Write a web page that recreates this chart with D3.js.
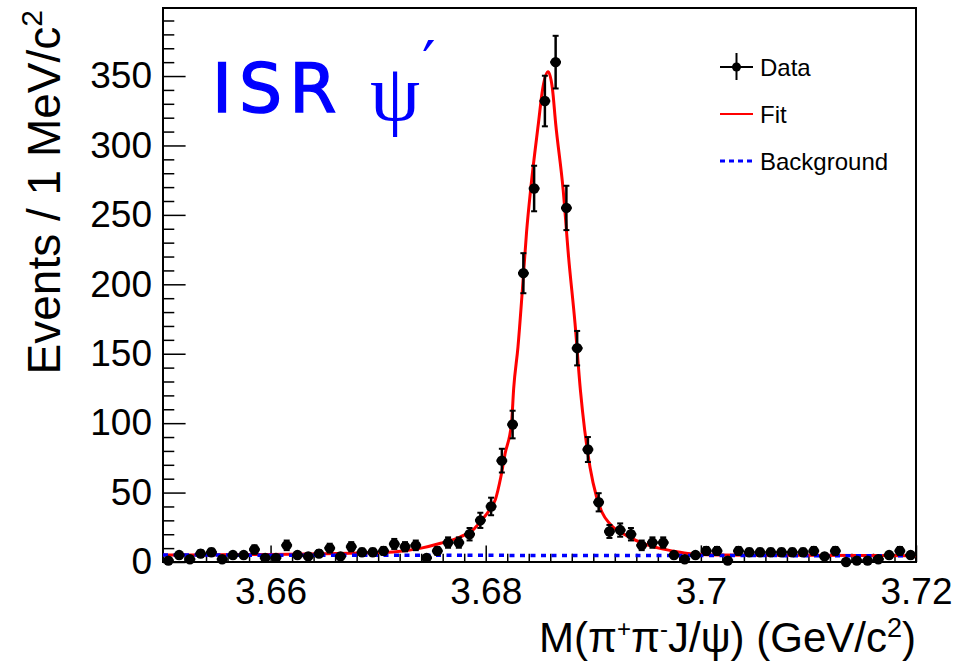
<!DOCTYPE html>
<html>
<head>
<meta charset="utf-8">
<script src="https://cdn.jsdelivr.net/npm/d3@7"></script>
<style>
  body { margin: 0; background: #fff; }
  svg { display: block; }
</style>
</head>
<body>
<div id="chart"></div>
<script>
// data: events per 1 MeV bin, 3.65 - 3.72 GeV
const binStart = 3.65;
const binWidth = 0.001;
const counts = [
  1, 5, 2, 6, 7, 2, 5, 5, 9, 3,
  3, 12, 5, 4, 6, 10, 4, 11, 7, 7,
  8, 13, 11, 12, 3, 8, 14, 14, 20, 30,
  40, 73, 99, 208, 269, 332, 360, 255, 154, 81,
  43, 22, 23, 20, 12, 14, 14, 5, 2, 5,
  8, 8, 1, 8, 7, 7, 7, 7, 7, 7,
  8, 4, 8, 0, 1, 1, 2, 5, 8, 5
];

// fit curve
const fitX = [3.65, 3.655, 3.66, 3.665, 3.6685, 3.6714, 3.674, 3.6758, 3.6776, 3.6788,
  3.6795, 3.6804, 3.6809, 3.6814, 3.6818, 3.6824, 3.6826, 3.683, 3.6834, 3.6838,
  3.6842, 3.6849, 3.6853, 3.6858, 3.6862, 3.6865, 3.6872, 3.6877, 3.6883, 3.6888,
  3.6892, 3.6897, 3.6903, 3.6908, 3.6916, 3.6931, 3.6946, 3.6962, 3.6978, 3.6993,
  3.7018, 3.71, 3.72];
const fitY = [5.0, 5.2, 5.4, 5.9, 6.5, 7.2, 10, 13.5, 18, 23,
  29, 38, 45, 61, 78, 100, 125, 155, 195, 238,
  270, 316, 341, 353, 341, 316, 268, 220, 172, 124,
  95, 68, 47, 36, 27, 19, 13.4, 9.8, 7.4, 5.7,
  5.0, 4.8, 4.5];

// background
const bgX = [3.65, 3.72];
const bgY = [5.0, 4.5];

// axes
const xMajor = [3.66, 3.68, 3.70, 3.72];
const xTickLabels = ["3.66", "3.68", "3.7", "3.72"];
const yMajor = [0, 50, 100, 150, 200, 250, 300, 350];
const yTickLabels = ["0", "50", "100", "150", "200", "250", "300", "350"];
const legendLabels = ["Data", "Fit", "Background"];

const W = 959, H = 668;
const frame = { left: 163, right: 916, top: 8, bottom: 562 };
const font = "'Liberation Sans', Arial, Helvetica, sans-serif";

const svg = d3.select("#chart")
  .append("svg")
  .attr("width", W)
  .attr("height", H)
  .style("background", "#fff");

const x = d3.scaleLinear().domain([3.65, 3.72]).range([frame.left, frame.right]);
const y = d3.scaleLinear().domain([0, 399]).range([frame.bottom, frame.top]);

const xTickLen = 0.03 * (frame.bottom - frame.top);
const yTickLen = 0.03 * (frame.right - frame.left);

// minor ticks
const xMinor = d3.range(3.65, 3.7201, 0.002).filter(v => !xMajor.some(m => Math.abs(m - v) < 1e-6));
const yMinor = d3.range(0, 400, 10).filter(v => v % 50 !== 0);

function styleAxis(g) {
  g.select(".domain").remove();
  g.selectAll("line").attr("stroke", "#000").attr("stroke-width", 1.5);
  g.selectAll("text")
    .attr("font-family", font)
    .attr("font-size", 37)
    .attr("fill", "#000");
}

svg.append("g")
  .attr("transform", `translate(0,${frame.bottom})`)
  .call(d3.axisBottom(x).tickValues(xMinor).tickSize(-xTickLen / 2).tickSizeOuter(0).tickFormat(""))
  .call(styleAxis);

svg.append("g")
  .attr("transform", `translate(0,${frame.bottom})`)
  .call(d3.axisBottom(x).tickValues(xMajor).tickSize(-xTickLen).tickSizeOuter(0)
    .tickPadding(16).tickFormat((d, i) => xTickLabels[i]))
  .call(styleAxis);

svg.append("g")
  .attr("transform", `translate(${frame.left},0)`)
  .call(d3.axisLeft(y).tickValues(yMinor).tickSize(-yTickLen / 2).tickSizeOuter(0).tickFormat(""))
  .call(styleAxis);

svg.append("g")
  .attr("transform", `translate(${frame.left},0)`)
  .call(d3.axisLeft(y).tickValues(yMajor).tickSize(-yTickLen).tickSizeOuter(0)
    .tickPadding(11).tickFormat((d, i) => yTickLabels[i]))
  .call(styleAxis);

// frame
svg.append("rect")
  .attr("x", frame.left)
  .attr("y", frame.top)
  .attr("width", frame.right - frame.left)
  .attr("height", frame.bottom - frame.top)
  .attr("fill", "none")
  .attr("stroke", "#000")
  .attr("stroke-width", 2);

// fit and background
const line = d3.line()
  .x(d => x(d[0]))
  .y(d => y(d[1]))
  .curve(d3.curveMonotoneX);

svg.append("path")
  .datum(d3.zip(fitX, fitY))
  .attr("fill", "none")
  .attr("stroke", "#ff0000")
  .attr("stroke-width", 3)
  .attr("d", line);

svg.append("path")
  .datum(d3.zip(bgX, bgY))
  .attr("fill", "none")
  .attr("stroke", "#0000ff")
  .attr("stroke-width", 3.5)
  .attr("stroke-dasharray", "5,5.5")
  .attr("d", line);

// data points with errors
const points = counts.map((n, i) => ({
  lo: binStart + i * binWidth,
  mid: binStart + (i + 0.5) * binWidth,
  hi: binStart + (i + 1) * binWidth,
  n: n
}));

const pts = svg.append("g").attr("stroke", "#000").attr("fill", "#000");

pts.selectAll(".xerr")
  .data(points)
  .join("line")
  .attr("x1", d => x(d.lo))
  .attr("x2", d => x(d.hi))
  .attr("y1", d => y(d.n))
  .attr("y2", d => y(d.n))
  .attr("stroke-width", 2.5);

const withErr = points.filter(d => d.n > 0);

pts.selectAll(".yerr")
  .data(withErr)
  .join("line")
  .attr("x1", d => x(d.mid))
  .attr("x2", d => x(d.mid))
  .attr("y1", d => y(d.n - Math.sqrt(d.n)))
  .attr("y2", d => y(d.n + Math.sqrt(d.n)))
  .attr("stroke-width", 2.5);

pts.selectAll(".cap")
  .data(withErr.flatMap(d => [d.n - Math.sqrt(d.n), d.n + Math.sqrt(d.n)].map(v => ({ mid: d.mid, v: v }))))
  .join("line")
  .attr("x1", d => x(d.mid) - 3)
  .attr("x2", d => x(d.mid) + 3)
  .attr("y1", d => y(d.v))
  .attr("y2", d => y(d.v))
  .attr("stroke-width", 2);

pts.selectAll("circle")
  .data(points)
  .join("circle")
  .attr("cx", d => x(d.mid))
  .attr("cy", d => y(d.n))
  .attr("r", 5.2)
  .attr("stroke", "none");

// legend
const legend = svg.append("g").attr("font-family", font).attr("font-size", 24);
const legY = [67, 114, 161];

legend.selectAll("text")
  .data(legendLabels)
  .join("text")
  .attr("x", 760)
  .attr("y", (d, i) => legY[i] + 9)
  .text(d => d);

legend.append("line").attr("x1", 720).attr("x2", 753).attr("y1", legY[0]).attr("y2", legY[0])
  .attr("stroke", "#000").attr("stroke-width", 2);
legend.append("line").attr("x1", 736.5).attr("x2", 736.5).attr("y1", legY[0] - 14).attr("y2", legY[0] + 13)
  .attr("stroke", "#000").attr("stroke-width", 2);
legend.append("circle").attr("cx", 736.5).attr("cy", legY[0]).attr("r", 4.5).attr("fill", "#000");
legend.append("line").attr("x1", 720).attr("x2", 753).attr("y1", legY[1]).attr("y2", legY[1])
  .attr("stroke", "#ff0000").attr("stroke-width", 2);
legend.append("line").attr("x1", 720).attr("x2", 753).attr("y1", legY[2]).attr("y2", legY[2])
  .attr("stroke", "#0000ff").attr("stroke-width", 3).attr("stroke-dasharray", "5,4");

// axis titles
const yTitle = svg.append("text")
  .attr("transform", `translate(60,${frame.top + 2}) rotate(-90)`)
  .attr("text-anchor", "end")
  .attr("font-family", font)
  .attr("font-size", 46)
  .attr("fill", "#000");
yTitle.append("tspan").text("Events / 1 MeV/c");
yTitle.append("tspan").attr("dy", -18).attr("font-size", 30).text("2");

const xTitle = svg.append("text")
  .attr("x", frame.right)
  .attr("y", 652)
  .attr("text-anchor", "end")
  .attr("font-family", font)
  .attr("font-size", 42)
  .attr("fill", "#000");
xTitle.append("tspan").text("M(π");
xTitle.append("tspan").attr("dy", -15).attr("font-size", 24).text("+");
xTitle.append("tspan").attr("dy", 15).text("π");
xTitle.append("tspan").attr("dy", -15).attr("font-size", 24).text("-");
xTitle.append("tspan").attr("dy", 15).text("J/ψ) (GeV/c");
xTitle.append("tspan").attr("dy", -15).attr("font-size", 27).text("2");
xTitle.append("tspan").attr("dy", 15).text(")");

// label in the corner
const tag = svg.append("text")
  .attr("x", 212)
  .attr("y", 112)
  .attr("fill", "#0000ff")
  .attr("font-family", "'Comic Sans MS', 'DejaVu Sans', sans-serif")
  .attr("font-size", 68)
  .attr("letter-spacing", 7)
  .attr("stroke", "#0000ff")
  .attr("stroke-width", 1.5);
tag.append("tspan").text("ISR");
tag.append("tspan")
  .attr("x", 370)
  .attr("y", 120)
  .attr("font-family", "'Liberation Serif', 'Times New Roman', serif")
  .attr("font-size", 80)
  .attr("letter-spacing", 0)
  .attr("stroke-width", 0)
  .text("ψ");
tag.append("tspan")
  .attr("x", 422)
  .attr("y", 84)
  .attr("font-size", 60)
  .attr("letter-spacing", 0)
  .attr("stroke-width", 0)
  .text("′");
</script>
</body>
</html>
